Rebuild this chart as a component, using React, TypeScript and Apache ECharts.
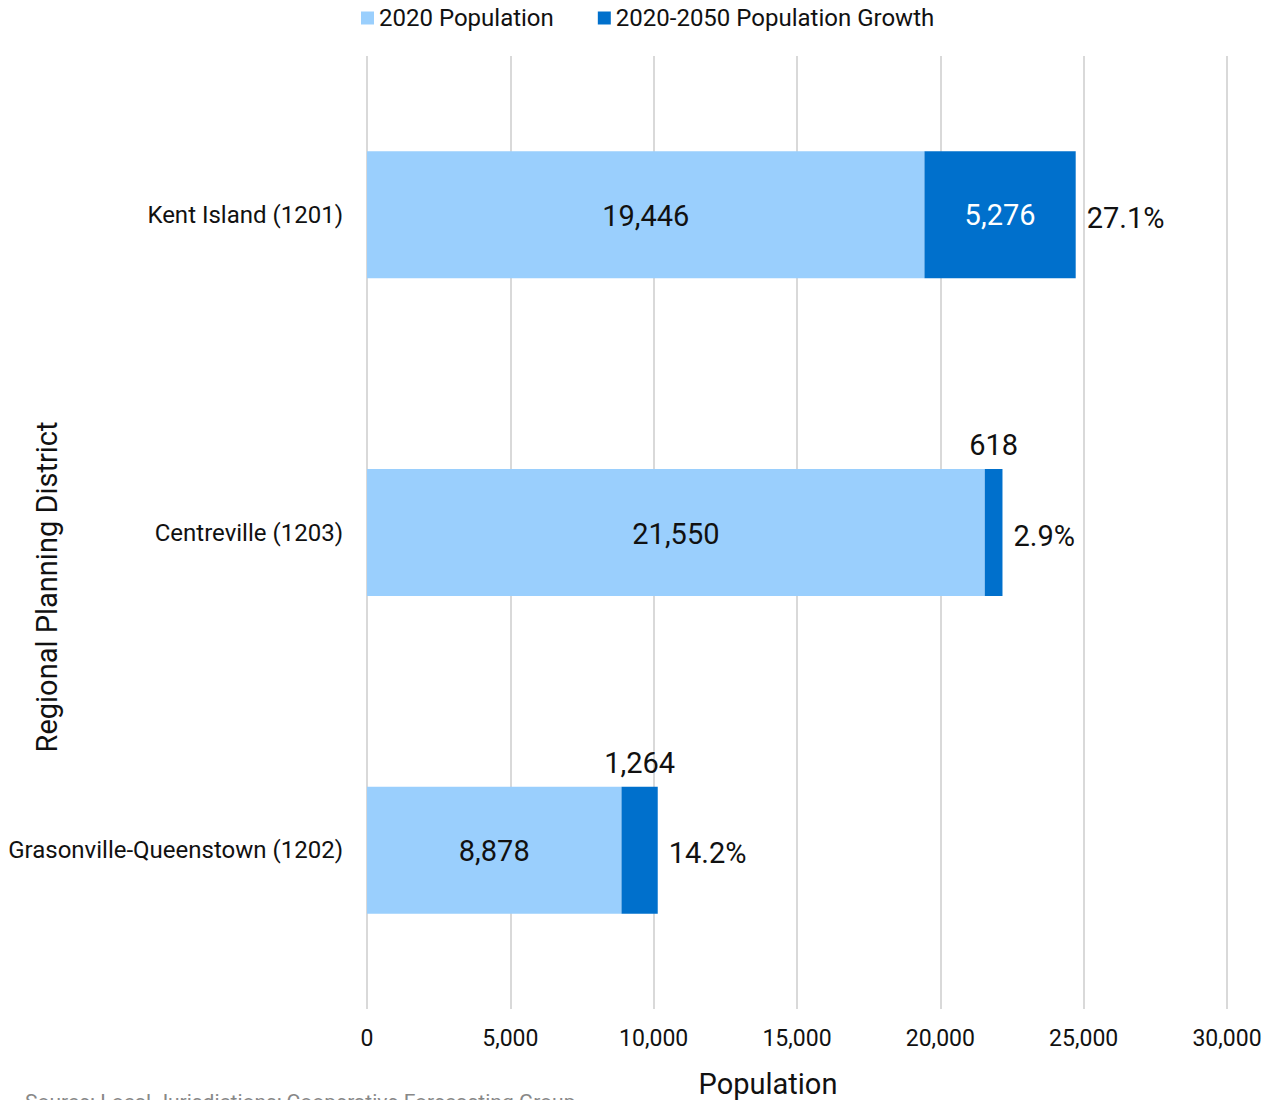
import React, { useEffect, useRef } from "react";
import * as echarts from "echarts";

const categories = ["Grasonville-Queenstown (1202)", "Centreville (1203)", "Kent Island (1201)"];
const pop2020 = [8878, 21550, 19446];
const growth = [1264, 618, 5276];
const growthPct = ["14.2%", "2.9%", "27.1%"];
const growthLabelPos = ["top", "top", "inside"];
const xTicks = [0, 5000, 10000, 15000, 20000, 25000, 30000];

const FONT = "Roboto, 'Noto Sans', sans-serif";

export default function App() {
  const ref = useRef<HTMLDivElement>(null);
  useEffect(() => {
    if (!ref.current) return;
    const chart = echarts.init(ref.current, undefined, { renderer: "svg" });
    const fmt = (v: number) => v.toLocaleString("en-US");
    chart.setOption({
      animation: false,
      textStyle: { fontFamily: FONT },
      legend: {
        top: 1,
        left: 356,
        itemWidth: 13,
        itemHeight: 13,
        itemGap: 44,
        icon: "rect",
        textStyle: { fontSize: 24, color: "#111", fontFamily: FONT },
        data: ["2020 Population", "2020-2050 Population Growth"],
      },
      grid: { left: 367, right: 39, top: 56, bottom: 91, containLabel: false },
      xAxis: {
        type: "value",
        min: xTicks[0],
        max: xTicks[xTicks.length - 1],
        interval: 5000,
        axisLine: { show: false },
        axisTick: { show: false },
        axisLabel: { fontSize: 23, color: "#111", margin: 18, formatter: (v: number) => fmt(v) },
        splitLine: { lineStyle: { color: "#d9d9d9", width: 2 } },
      },
      yAxis: {
        type: "category",
        data: categories,
        axisLine: { show: false },
        axisTick: { show: false },
        axisLabel: { fontSize: 24, color: "#111", margin: 24 },
      },
      series: [
        {
          name: "2020 Population",
          type: "bar",
          stack: "total",
          barWidth: "40%",
          itemStyle: { color: "#9ACFFD" },
          label: {
            show: true,
            position: "inside",
            fontSize: 29,
            color: "#111",
            offset: [0, 1],
            formatter: (p: any) => fmt(p.value),
          },
          data: pop2020,
        },
        {
          name: "2020-2050 Population Growth",
          type: "bar",
          stack: "total",
          barWidth: "40%",
          itemStyle: { color: "#0070CC" },
          data: growth.map((v, i) => ({
            value: v,
            label: {
              show: true,
              position: growthLabelPos[i],
              distance: 9,
              fontSize: 29,
              color: growthLabelPos[i] === "inside" ? "#ffffff" : "#111",
              formatter: (p: any) => fmt(p.value),
            },
          })),
        },
        {
          name: "pct",
          type: "scatter",
          symbolSize: 0,
          silent: true,
          itemStyle: { opacity: 1 },
          data: categories.map((c, i) => ({
            value: [pop2020[i] + growth[i], c],
            label: {
              show: true,
              position: "right",
              distance: 11,
              fontSize: 29,
              color: "#111",
              opacity: 1,
              offset: [0, 3],
              formatter: () => growthPct[i],
            },
          })),
        },
      ],
      graphic: [
        {
          type: "text",
          x: 47,
          y: 587,
          rotation: Math.PI / 2,
          style: {
            text: "Regional Planning District",
            fontSize: 29,
            fill: "#111",
            fontFamily: FONT,
            align: "center",
            verticalAlign: "middle",
          },
        },
        {
          type: "text",
          x: 768,
          y: 1084,
          style: {
            text: "Population",
            fontSize: 29,
            fill: "#111",
            fontFamily: FONT,
            align: "center",
            verticalAlign: "middle",
          },
        },
        {
          type: "text",
          x: 25,
          y: 1091,
          style: {
            text: "Source: Local Jurisdictions; Cooperative Forecasting Group",
            fontSize: 21,
            fill: "#888",
            fontFamily: FONT,
            align: "left",
            verticalAlign: "top",
          },
        },
      ],
    });
    return () => chart.dispose();
  }, []);
  return (
    <div
      ref={ref}
      style={{ position: "absolute", left: 0, top: 0, width: 1266, height: 1100 }}
    />
  );
}
